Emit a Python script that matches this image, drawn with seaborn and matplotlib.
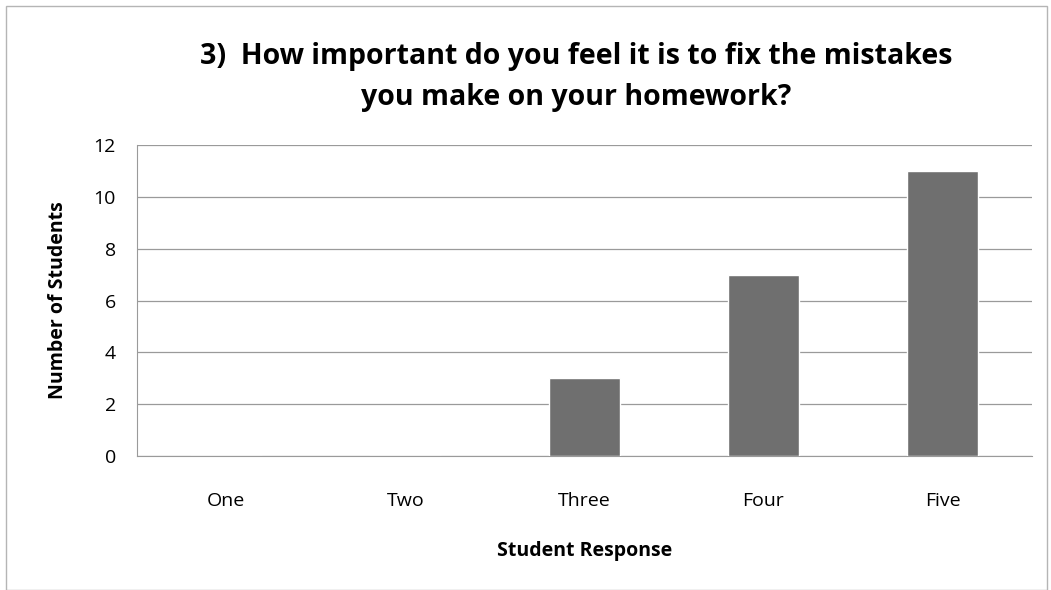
import matplotlib
matplotlib.use("Agg")
import matplotlib.pyplot as plt
import seaborn as sns
import pandas as pd

# data
responses = ["One", "Two", "Three", "Four", "Five"]
students = [0, 0, 3, 7, 11]

sns.set_style("white")
plt.rcParams['font.family'] = ['Open Sans', 'DejaVu Sans']
plt.rcParams['text.color'] = 'black'
plt.rcParams['axes.labelcolor'] = 'black'
plt.rcParams['xtick.labelcolor'] = 'black'
plt.rcParams['ytick.labelcolor'] = 'black'

df = pd.DataFrame({"Student Response": responses, "Number of Students": students})

fig = plt.figure(figsize=(10.51, 5.9), dpi=100)
ax = fig.add_axes([0.130, 0.227, 0.852, 0.527])

sns.barplot(data=df, x="Student Response", y="Number of Students",
            color="#6f6f6f", width=0.4, saturation=1, ax=ax, zorder=3)

ax.set_ylim(0, 12)
ax.set_yticks(range(0, 13, 2))
ax.set_xlim(-0.5, 4.5)
ax.yaxis.grid(True, color="#9a9a9a", linewidth=0.9, zorder=0)
ax.set_axisbelow(True)

for side in ["top", "right"]:
    ax.spines[side].set_visible(False)
ax.spines["left"].set_color("#9a9a9a")
ax.spines["bottom"].set_color("#9a9a9a")

# category boundary ticks on x axis
ax.set_xticks([i - 0.5 for i in range(6)], minor=True)
ax.tick_params(axis="x", which="major", length=0, labelsize=14, pad=26)
ax.tick_params(axis="x", which="minor", length=5, color="#9a9a9a", direction="out")
ax.tick_params(axis="y", length=5, color="#9a9a9a", labelsize=14, direction="out", pad=10)

ax.set_xlabel("Student Response", fontsize=14, fontweight="bold", labelpad=22)
ax.set_ylabel("Number of Students", fontsize=14, fontweight="bold", labelpad=18)

fig.text(0.548, 0.905, "3)  How important do you feel it is to fix the mistakes",
         ha="center", va="center", fontsize=20.5, fontweight="bold")
fig.text(0.548, 0.835, "you make on your homework?",
         ha="center", va="center", fontsize=20.5, fontweight="bold")

# light frame around the whole chart
fig.patches.append(plt.Rectangle((0.006, 0.0), 0.99, 0.99, transform=fig.transFigure,
                                 fill=False, edgecolor="#b5b5b5", linewidth=1))

fig.savefig("out.png", dpi=100)
